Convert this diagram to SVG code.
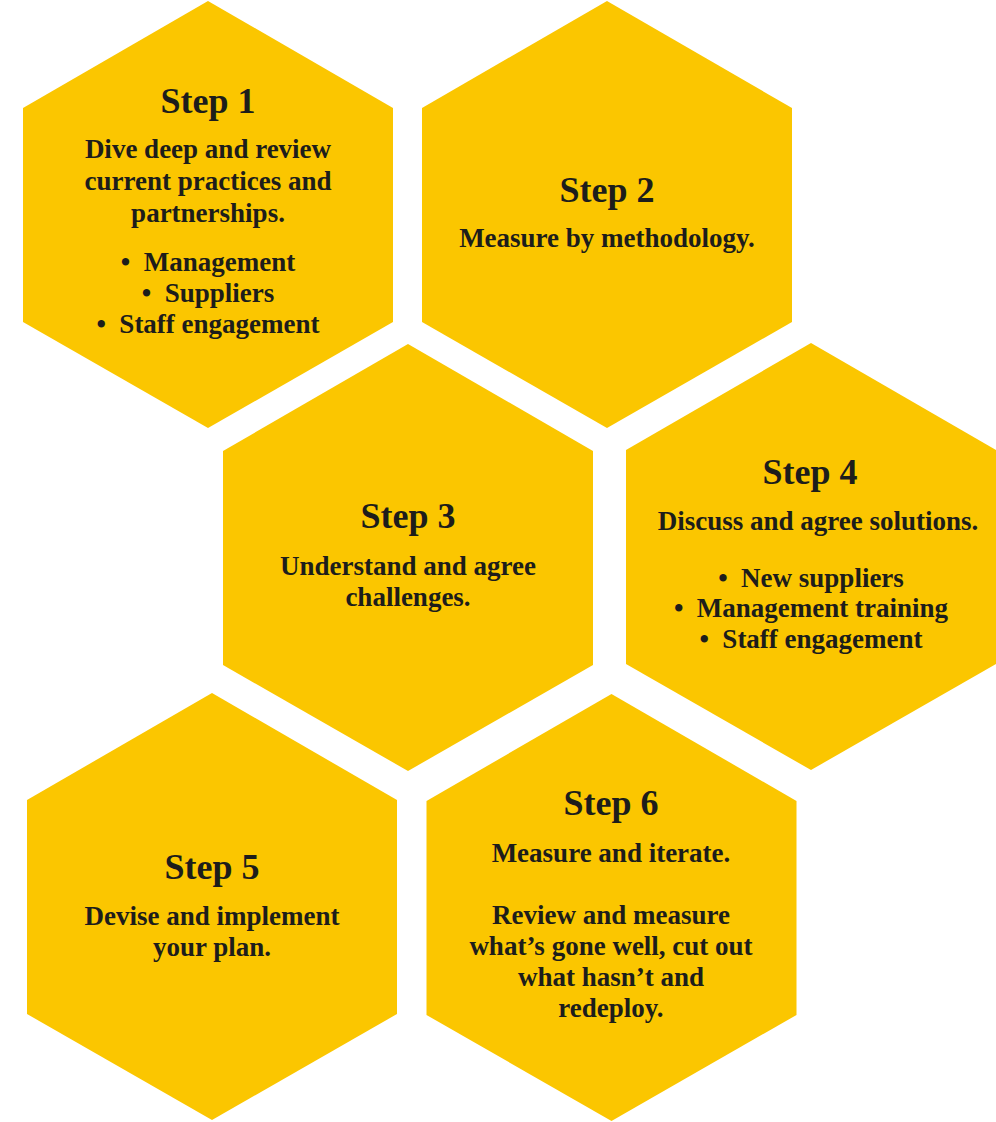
<svg xmlns="http://www.w3.org/2000/svg" xmlns:xlink="http://www.w3.org/1999/xlink" width="996" height="1122" viewBox="0 0 996 1122">
<style>
.hex{fill:#FBC600}
text{font-family:"Liberation Serif","Times New Roman",serif;font-weight:bold;fill:#1d1d1b;text-anchor:middle}
.t{font-size:36px}
.b{font-size:27px}
</style>
<defs>
<polygon id="hx" class="hex" points="0,0 185,107 185,321 0,427 -185,321 -185,107"/>
</defs>
<rect width="996" height="1122" fill="#ffffff"/>
<g id="connectors"/>
<g id="step1">
<use xlink:href="#hx" href="#hx" x="208" y="1"/>
<text class="t" x="208" y="113">Step 1</text>
<text class="b" x="208" y="158">Dive deep and review</text>
<text class="b" x="208" y="190">current practices and</text>
<text class="b" x="208" y="222">partnerships.</text>
<text class="b" x="208" y="271">•&#8194;Management</text>
<text class="b" x="208" y="302">•&#8194;Suppliers</text>
<text class="b" x="208" y="333">•&#8194;Staff engagement</text>
</g>
<g id="step2">
<use xlink:href="#hx" href="#hx" x="607" y="1"/>
<text class="t" x="607" y="202">Step 2</text>
<text class="b" x="607" y="247">Measure by methodology.</text>
</g>
<g id="step3">
<use xlink:href="#hx" href="#hx" x="408" y="344"/>
<text class="t" x="408" y="528">Step 3</text>
<text class="b" x="408" y="575">Understand and agree</text>
<text class="b" x="408" y="606">challenges.</text>
</g>
<g id="step4">
<use xlink:href="#hx" href="#hx" x="811" y="343"/>
<text class="t" x="810" y="484">Step 4</text>
<text class="b" x="818" y="530">Discuss and agree solutions.</text>
<text class="b" x="811" y="587">•&#8194;New suppliers</text>
<text class="b" x="811" y="617">•&#8194;Management training</text>
<text class="b" x="811" y="648">•&#8194;Staff engagement</text>
</g>
<g id="step5">
<use xlink:href="#hx" href="#hx" x="212" y="693"/>
<text class="t" x="212" y="879">Step 5</text>
<text class="b" x="212" y="925">Devise and implement</text>
<text class="b" x="212" y="956">your plan.</text>
</g>
<g id="step6">
<use xlink:href="#hx" href="#hx" x="611.5" y="694"/>
<text class="t" x="611" y="815">Step 6</text>
<text class="b" x="611" y="862">Measure and iterate.</text>
<text class="b" x="611" y="924">Review and measure</text>
<text class="b" x="611" y="955">what’s gone well, cut out</text>
<text class="b" x="611" y="986">what hasn’t and</text>
<text class="b" x="611" y="1017">redeploy.</text>
</g>
</svg>
